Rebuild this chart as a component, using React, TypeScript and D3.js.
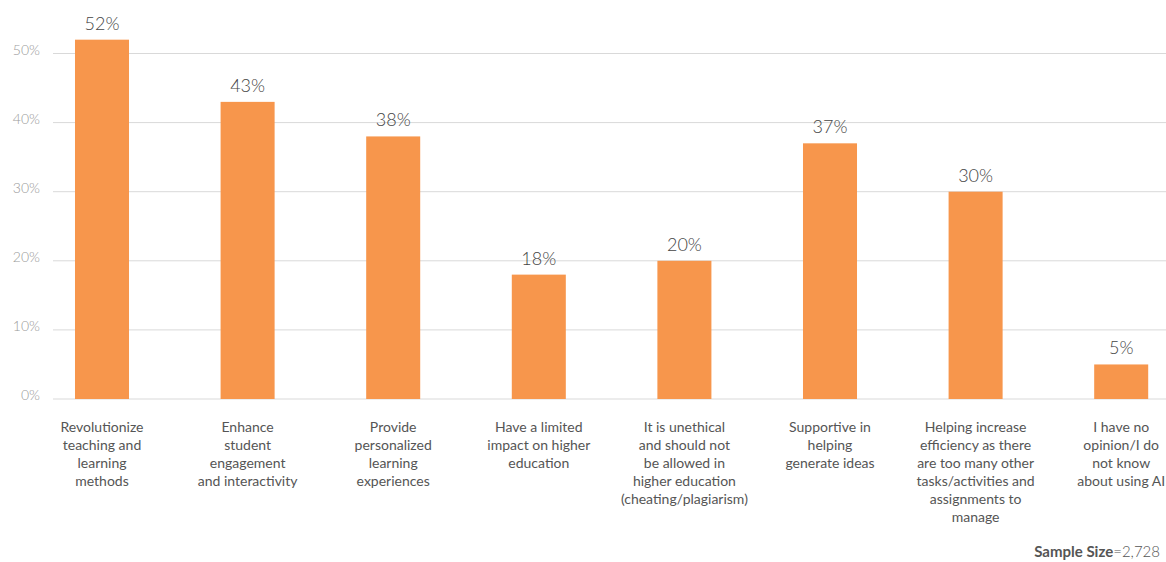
import React from "react";
import * as d3 from "d3";

const categories: string[][] = [
  ["Revolutionize", "teaching and", "learning", "methods"],
  ["Enhance", "student", "engagement", "and interactivity"],
  ["Provide", "personalized", "learning", "experiences"],
  ["Have a limited", "impact on higher", "education"],
  ["It is unethical", "and should not", "be allowed in", "higher education", "(cheating/plagiarism)"],
  ["Supportive in", "helping", "generate ideas"],
  ["Helping increase", "efficiency as there", "are too many other", "tasks/activities and", "assignments to", "manage"],
  ["I have no", "opinion/I do", "not know", "about using AI"],
];
const values: number[] = [52, 43, 38, 18, 20, 37, 30, 5];
const yTicks: number[] = [0, 10, 20, 30, 40, 50];

const W = 1166;
const H = 562;
const FONT = "Lato, 'Noto Sans', sans-serif";

export default function App() {
  const x = d3
    .scaleBand<number>()
    .domain(values.map((_, i) => i))
    .range([29.2, 29.2 + 8 * 145.6])
    .paddingInner(0.629)
    .paddingOuter(0.3145);
  const y = d3.scaleLinear().domain([0, 50]).range([399, 53.5]);

  return (
    <svg
      width={W}
      height={H}
      style={{ position: "absolute", left: 0, top: 0, background: "#fff" }}
      fontFamily={FONT}
    >
      {yTicks.map((t) => (
        <g key={t}>
          <line x1={53} x2={W} y1={y(t)} y2={y(t)} stroke="#d9d9d9" strokeWidth={1} />
          <text x={40} y={y(t) + 1} textAnchor="end" fontSize={14} fontWeight={300} fill="#9a9a9a">
            {t}%
          </text>
        </g>
      ))}
      {values.map((v, i) => (
        <g key={i}>
          <rect
            x={x(i)!}
            y={y(v)}
            width={x.bandwidth()}
            height={y(0) - y(v)}
            fill="#F7964C"
          />
          <text
            x={x(i)! + x.bandwidth() / 2}
            y={y(v) - 10}
            textAnchor="middle"
            fontSize={18}
            fontWeight={300}
            fill="#444"
          >
            {v}%
          </text>
          <text textAnchor="middle" fontSize={14} fill="#555">
            {categories[i].map((line, j) => (
              <tspan key={j} x={x(i)! + x.bandwidth() / 2} y={432 + j * 18}>
                {line}
              </tspan>
            ))}
          </text>
        </g>
      ))}
      <text x={1160} y={557} textAnchor="end" fontSize={15} fill="#555">
        <tspan fontWeight="bold">Sample Size</tspan>
        <tspan fontWeight={300}>=2,728</tspan>
      </text>
    </svg>
  );
}
